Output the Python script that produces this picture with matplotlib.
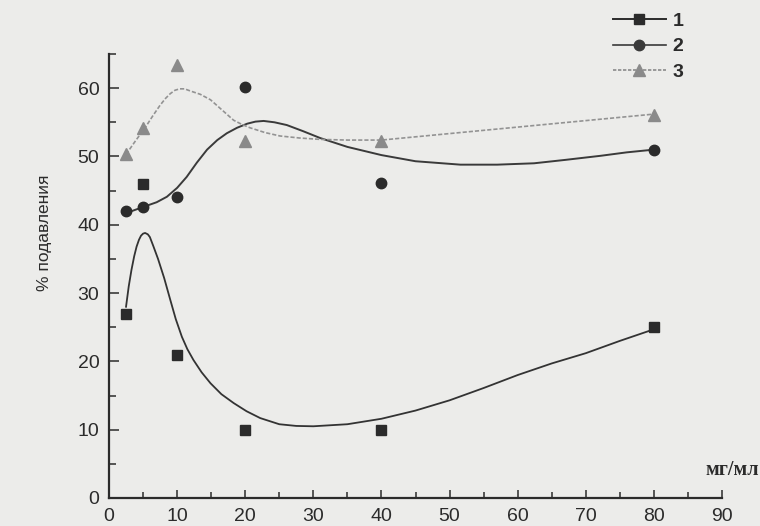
import matplotlib
matplotlib.use('Agg')
import matplotlib.pyplot as plt
from matplotlib.lines import Line2D

# измеренные точки
conc = [2.5, 5, 10, 20, 40, 80]
s1 = [27, 46, 21, 10, 10, 25]
s2 = [42, 42.6, 44, 60.2, 46.1, 51]
s3 = [50.3, 54.2, 63.4, 52.3, 52.3, 56.1]

# сглаживающие кривые
fit1_x = [2.5, 2.9, 3.3, 3.7, 4.05, 4.4, 4.7, 5.0, 5.3, 5.7, 6.0, 6.5, 7.2,
          8.1, 9.0, 9.8, 10.7, 11.5, 12.4, 13.6, 14.9, 16.5, 18.3, 20.2,
          22.2, 25, 27.5, 30, 35, 40, 45, 50, 55, 60, 65, 70, 75, 80]
fit1_y = [28, 31, 33.4, 35.4, 36.8, 37.8, 38.4, 38.7, 38.8, 38.6, 38.2, 36.9,
          35, 32.2, 29, 26.2, 23.6, 21.8, 20.2, 18.4, 16.8, 15.2, 13.9, 12.7,
          11.7, 10.8, 10.55, 10.5, 10.8, 11.6, 12.8, 14.3, 16.1, 18, 19.7,
          21.2, 23, 24.7]

fit2_x = [2.5, 5, 7, 8.5, 10, 11.4, 12.9, 14.4, 15.9, 17.3, 18.8, 20.3, 21.5,
          22.7, 24.3, 26.1, 28.5, 31, 35, 40, 45, 51.6, 57, 62.4, 67, 72.2,
          76, 80]
fit2_y = [41.7, 42.6, 43.3, 44.1, 45.4, 47, 49.1, 51, 52.4, 53.4, 54.2, 54.8,
          55.1, 55.2, 55.0, 54.6, 53.7, 52.7, 51.4, 50.2, 49.3, 48.8, 48.8,
          49, 49.5, 50.1, 50.6, 51]

fit3_x = [2.5, 3.9, 5.3, 6.4, 7.5, 8.3, 9, 9.7, 10.4, 11.1, 11.9, 13.4, 14.9,
          16.6, 18.3, 19.5, 20.7, 22.9, 25.1, 28, 31, 35, 40, 60, 80]
fit3_y = [50.3, 52.3, 54.2, 55.9, 57.5, 58.5, 59.2, 59.7, 59.9, 59.9, 59.6,
          59.1, 58.3, 56.8, 55.3, 54.7, 54.2, 53.5, 53, 52.7, 52.5, 52.4,
          52.4, 54.3, 56.2]

labels = ['1', '2', '3']

bg = '#ececea'
ink = '#2b2b2b'
grey = '#8a8a8a'

plt.rcParams['font.family'] = ['Liberation Sans', 'DejaVu Sans']

fig = plt.figure(figsize=(7.6, 5.26), dpi=100, facecolor=bg)
ax = fig.add_axes([109 / 760, 28 / 526, 613 / 760, 444 / 526])
ax.set_facecolor(bg)

ax.plot(fit1_x, fit1_y, '-', color='#333333', lw=1.3)
ax.plot(fit2_x, fit2_y, '-', color='#3a3a3a', lw=1.4)
ax.plot(fit3_x, fit3_y, color='#939393', lw=1.2, linestyle=(0, (2.5, 1.2)))

ax.plot(conc, s1, 's', color=ink, ms=7.2, ls='none')
ax.plot(conc, s2, 'o', color=ink, ms=7.5, ls='none')
ax.plot(conc, s3, '^', color=grey, ms=8, ls='none')

ax.set_xlim(0, 90)
ax.set_ylim(0, 65)
ax.set_xticks(range(0, 91, 10))
ax.set_xticks(range(5, 90, 10), minor=True)
ax.set_yticks(range(0, 61, 10))
ax.set_yticks(range(5, 66, 10), minor=True)

for s in ['top', 'right']:
    ax.spines[s].set_visible(False)
for s in ['left', 'bottom']:
    ax.spines[s].set_linewidth(1.6)
    ax.spines[s].set_color(ink)

ax.tick_params(axis='both', which='both', direction='in', color=ink,
               width=1.1, labelsize=14, labelcolor=ink)
ax.tick_params(axis='y', which='major', length=7, pad=7)
ax.tick_params(axis='y', which='minor', length=5)
ax.tick_params(axis='x', which='major', length=6, pad=7)
ax.tick_params(axis='x', which='minor', length=4)

ax.set_ylabel('% подавления', fontsize=12.5, color=ink)
ax.yaxis.set_label_coords(-0.093, 0.597)

ax.text(87.6, 4.1, 'мг/мл', fontsize=14.5, fontweight='bold',
        family=['Liberation Serif', 'DejaVu Serif'], color=ink,
        ha='left', va='center', clip_on=False)

handles = [
    Line2D([], [], color=ink, lw=1.4, marker='s', ms=7.2),
    Line2D([], [], color='#3a3a3a', lw=1.2, marker='o', ms=7.5),
    Line2D([], [], color=grey, lw=1.2, linestyle=(0, (2, 1)),
           marker='^', ms=8),
]
leg = ax.legend(handles, labels, loc='upper left',
                bbox_to_anchor=(613 / 760, 1 - 12 / 526),
                bbox_transform=fig.transFigure, frameon=False,
                handlelength=2.7, handletextpad=0.35, labelspacing=0.42,
                borderpad=0, borderaxespad=0,
                prop={'size': 14, 'weight': 'bold'})
for t in leg.get_texts():
    t.set_color(ink)

fig.savefig('out.png', dpi=100, facecolor=bg)
